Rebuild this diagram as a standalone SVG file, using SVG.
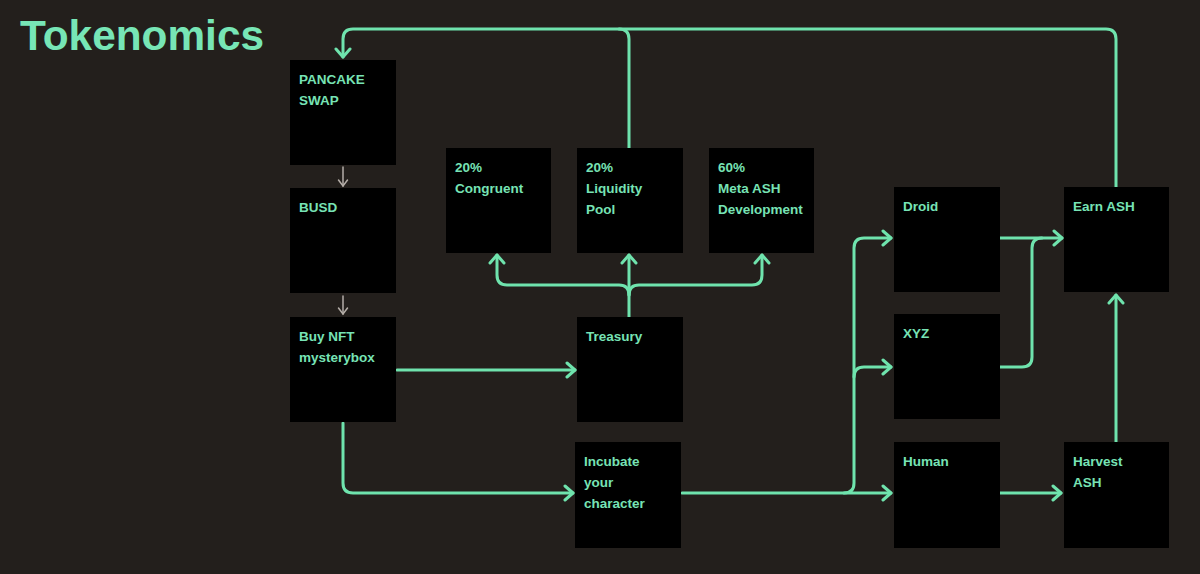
<svg xmlns="http://www.w3.org/2000/svg" width="1200" height="574" viewBox="0 0 1200 574">
<style>
.bg{fill:#231f1c}
.box{fill:#000}
.t{font-family:"Liberation Sans",Arial,sans-serif;font-size:13.5px;font-weight:bold;fill:#77e3b5}
.title{font-family:"Liberation Sans",Arial,sans-serif;font-size:42px;font-weight:bold;fill:#77e6b6}
.c{fill:none;stroke:#6fe3ad;stroke-width:3;stroke-linecap:round;stroke-linejoin:round}
.g{fill:none;stroke:#b5aea8;stroke-width:1.5;stroke-linecap:round}
</style>
<defs>
<marker id="ah" viewBox="0 0 12 20" refX="10" refY="10" markerWidth="12" markerHeight="20" orient="auto" markerUnits="userSpaceOnUse">
<path d="M2,3 L10,10 L2,17" fill="none" stroke="#6fe3ad" stroke-width="3" stroke-linecap="round" stroke-linejoin="round"/>
</marker>
<marker id="gh" viewBox="0 0 10 12" refX="8" refY="6" markerWidth="10" markerHeight="12" orient="auto" markerUnits="userSpaceOnUse">
<path d="M2,1.5 L8,6 L2,10.5" fill="none" stroke="#b5aea8" stroke-width="1.5" stroke-linecap="round"/>
</marker>
</defs>
<rect class="bg" x="0" y="0" width="1200" height="574"/>
<text class="title" x="20" y="50" textLength="244" lengthAdjust="spacingAndGlyphs">Tokenomics</text>

<g id="connectors">
<path class="c" d="M1116,187 V39 Q1116,29 1106,29 H353 Q343,29 343,39 V57" marker-end="url(#ah)"/>
<path class="c" d="M629,148 V39 Q629,29 619,29"/>
<path class="g" d="M343,167 V186" marker-end="url(#gh)"/>
<path class="g" d="M343,296 V314" marker-end="url(#gh)"/>
<path class="c" d="M397,370 H575" marker-end="url(#ah)"/>
<path class="c" d="M343,423 V483 Q343,493 353,493 H573" marker-end="url(#ah)"/>
<path class="c" d="M629,317 V255" marker-end="url(#ah)"/>
<path class="c" d="M629,295 Q629,285 619,285 H507 Q497,285 497,275 V255" marker-end="url(#ah)"/>
<path class="c" d="M629,295 Q629,285 639,285 H752 Q762,285 762,275 V255" marker-end="url(#ah)"/>
<path class="c" d="M682,493 H891" marker-end="url(#ah)"/>
<path class="c" d="M844,493 Q854,493 854,483 V248 Q854,238 864,238 H891" marker-end="url(#ah)"/>
<path class="c" d="M854,377 Q854,367 864,367 H891" marker-end="url(#ah)"/>
<path class="c" d="M1000,238 H1062" marker-end="url(#ah)"/>
<path class="c" d="M1000,367 H1022 Q1032,367 1032,357 V248 Q1032,238 1042,238"/>
<path class="c" d="M1000,493 H1061" marker-end="url(#ah)"/>
<path class="c" d="M1116,442 V295" marker-end="url(#ah)"/>
</g>

<g id="pancake"><rect class="box" x="290" y="60" width="106" height="105"/><text class="t" x="299" y="84">PANCAKE</text><text class="t" x="299" y="105">SWAP</text></g>
<g id="busd"><rect class="box" x="290" y="188" width="106" height="105"/><text class="t" x="299" y="212">BUSD</text></g>
<g id="buynft"><rect class="box" x="290" y="317" width="106" height="105"/><text class="t" x="299" y="341">Buy NFT</text><text class="t" x="299" y="362">mysterybox</text></g>
<g id="congruent"><rect class="box" x="446" y="148" width="105" height="105"/><text class="t" x="455" y="172">20%</text><text class="t" x="455" y="193">Congruent</text></g>
<g id="liquidity"><rect class="box" x="577" y="148" width="106" height="105"/><text class="t" x="586" y="172">20%</text><text class="t" x="586" y="193">Liquidity</text><text class="t" x="586" y="214">Pool</text></g>
<g id="meta"><rect class="box" x="709" y="148" width="105" height="105"/><text class="t" x="718" y="172">60%</text><text class="t" x="718" y="193">Meta ASH</text><text class="t" x="718" y="214">Development</text></g>
<g id="treasury"><rect class="box" x="577" y="317" width="106" height="105"/><text class="t" x="586" y="341">Treasury</text></g>
<g id="incubate"><rect class="box" x="575" y="442" width="106" height="106"/><text class="t" x="584" y="466">Incubate</text><text class="t" x="584" y="487">your</text><text class="t" x="584" y="508">character</text></g>
<g id="droid"><rect class="box" x="894" y="187" width="106" height="105"/><text class="t" x="903" y="211">Droid</text></g>
<g id="xyz"><rect class="box" x="894" y="314" width="106" height="105"/><text class="t" x="903" y="338">XYZ</text></g>
<g id="human"><rect class="box" x="894" y="442" width="106" height="106"/><text class="t" x="903" y="466">Human</text></g>
<g id="earn"><rect class="box" x="1064" y="187" width="105" height="105"/><text class="t" x="1073" y="211">Earn ASH</text></g>
<g id="harvest"><rect class="box" x="1064" y="442" width="105" height="106"/><text class="t" x="1073" y="466">Harvest</text><text class="t" x="1073" y="487">ASH</text></g>
</svg>
